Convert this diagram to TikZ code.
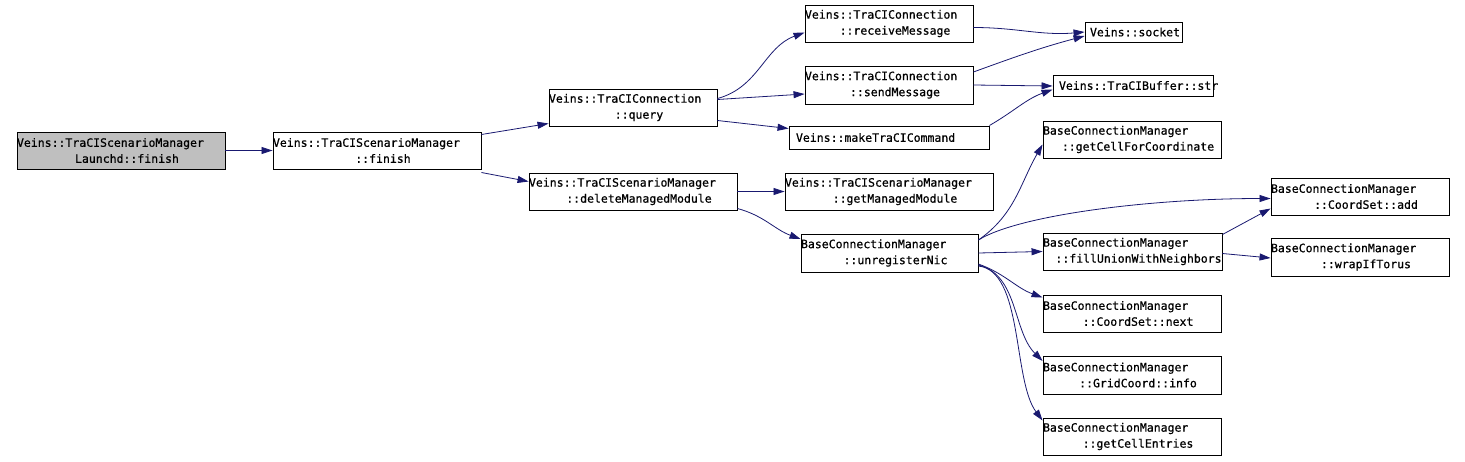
\documentclass[tikz,border=0pt]{standalone}
\usepackage{fontspec}
\newfontfamily\dxfont[FakeBold=0.7]{DejaVu Sans Mono}
\usetikzlibrary{arrows.meta}
\definecolor{callblue}{HTML}{191970}
\definecolor{rootgray}{HTML}{BFBFBF}

% first line starts at the box edge, second line is centred
\newcommand\topline[2][0pt]{\makebox[\linewidth][l]{\hspace*{#1}#2}}
\newcommand\subline[1]{\makebox[\linewidth]{\hspace*{12pt}#1}}

\begin{document}
\begin{tikzpicture}[x=1pt, y=-1pt,
    fn/.style={draw=black, line width=0.9pt, inner sep=0pt, align=center,
      font=\fontsize{11.5}{16}\dxfont},
    call/.style={draw=callblue, line width=0.8pt,
      -{Triangle[length=11pt, width=7pt, fill=callblue]}}]
  \useasboundingbox (0,0) rectangle (1465,461);

  % functions
  \node[fn, fill=rootgray, text width=208pt, minimum height=37pt] (launchd) at (121,150.5)
    {\topline{Veins::TraCIScenarioManager}\\\subline{Launchd::finish}};
  \node[fn, text width=208pt, minimum height=37pt] (finish) at (377,150.5)
    {\topline{Veins::TraCIScenarioManager}\\\subline{::finish}};
  \node[fn, text width=168pt, minimum height=37pt] (query) at (633,107.5)
    {\topline{Veins::TraCIConnection}\\\subline{::query}};
  \node[fn, text width=208pt, minimum height=37pt] (delmod) at (633,191.5)
    {\topline{Veins::TraCIScenarioManager}\\\subline{::deleteManagedModule}};
  \node[fn, text width=168pt, minimum height=37pt] (recv) at (889,23.5)
    {\topline{Veins::TraCIConnection}\\\subline{::receiveMessage}};
  \node[fn, text width=168pt, minimum height=38pt] (send) at (889,85)
    {\topline{Veins::TraCIConnection}\\\subline{::sendMessage}};
  \node[fn, text width=200pt, minimum height=23pt] (mkcmd) at (889,137.5)
    {\topline[7pt]{Veins::makeTraCICommand}};
  \node[fn, text width=97pt, minimum height=20pt] (socket) at (1133.5,32)
    {\topline[5pt]{Veins::socket}};
  \node[fn, text width=160pt, minimum height=21pt] (buffer) at (1133,85.5)
    {\topline[6pt]{Veins::TraCIBuffer::str}};
  \node[fn, text width=208pt, minimum height=37pt] (getmod) at (889,191.5)
    {\topline{Veins::TraCIScenarioManager}\\\subline{::getManagedModule}};
  \node[fn, text width=177pt, minimum height=38pt] (unreg) at (889.5,253)
    {\topline{BaseConnectionManager}\\\subline{::unregisterNic}};
  \node[fn, text width=178pt, minimum height=37pt] (cellcoord) at (1132,139.5)
    {\topline{BaseConnectionManager}\\\subline{::getCellForCoordinate}};
  \node[fn, text width=178pt, minimum height=37pt] (add) at (1360,196.5)
    {\topline{BaseConnectionManager}\\\subline{::CoordSet::add}};
  \node[fn, text width=179pt, minimum height=37pt] (fillu) at (1132.5,251.5)
    {\topline{BaseConnectionManager}\\\subline{::fillUnionWithNeighbors}};
  \node[fn, text width=178pt, minimum height=38pt] (wrap) at (1360,257)
    {\topline{BaseConnectionManager}\\\subline{::wrapIfTorus}};
  \node[fn, text width=178pt, minimum height=37pt] (next) at (1132,313.5)
    {\topline{BaseConnectionManager}\\\subline{::CoordSet::next}};
  \node[fn, text width=178pt, minimum height=38pt] (info) at (1132,375)
    {\topline{BaseConnectionManager}\\\subline{::GridCoord::info}};
  \node[fn, text width=178pt, minimum height=37pt] (entries) at (1132,436.5)
    {\topline{BaseConnectionManager}\\\subline{::getCellEntries}};

  % calls
  \draw[call] (launchd) -- (finish);
  \draw[call] ([yshift=16pt]finish.east) -- ([yshift=-16pt]query.west);
  \draw[call] ([yshift=-22pt]finish.east) -- ([yshift=10pt]delmod.west);
  \draw[call] ([yshift=9pt]query.east) to[out=15, in=200] ([yshift=-9pt]recv.west);
  \draw[call] ([yshift=8pt]query.east) -- ([yshift=-9pt]send.west);
  \draw[call] ([yshift=-13pt]query.east) -- ([yshift=9pt]mkcmd.west);
  \draw[call] ([yshift=-4pt]recv.east) to[out=0, in=185] (socket.west);
  \draw[call] ([yshift=13pt]send.east) to[out=20, in=195] ([yshift=-4pt]socket.west);
  \draw[call] (send.east) -- ([yshift=-0.5pt]buffer.west);
  \draw[call] ([yshift=12pt]mkcmd.east) to[out=30, in=200] ([yshift=-4pt]buffer.west);
  \draw[call] (delmod.east) -- (getmod.west);
  \draw[call] ([yshift=-17pt]delmod.east) to[out=-15, in=160] ([yshift=14pt]unreg.west);
  \draw[call] ([yshift=13pt]unreg.east) to[out=35, in=240] ([yshift=-5pt]cellcoord.west);
  \draw[call] ([yshift=13pt]unreg.east) .. controls +(40,-25) and +(-120,0) .. ([yshift=-2pt]add.west);
  \draw[call] (unreg.east) -- (fillu.west);
  \draw[call] ([yshift=17pt]fillu.east) -- ([yshift=-12pt]add.west);
  \draw[call] ([yshift=-2pt]fillu.east) -- ([yshift=-1pt]wrap.west);
  \draw[call] ([yshift=-11pt]unreg.east) to[out=-20, in=160] ([yshift=16pt]next.west);
  \draw[call] ([yshift=-12pt]unreg.east) .. controls +(40,10) and +(-30,-30) .. ([yshift=14pt]info.west);
  \draw[call] ([yshift=-13pt]unreg.east) .. controls +(45,5) and +(-30,-40) .. ([yshift=16pt]entries.west);
\end{tikzpicture}
\end{document}
